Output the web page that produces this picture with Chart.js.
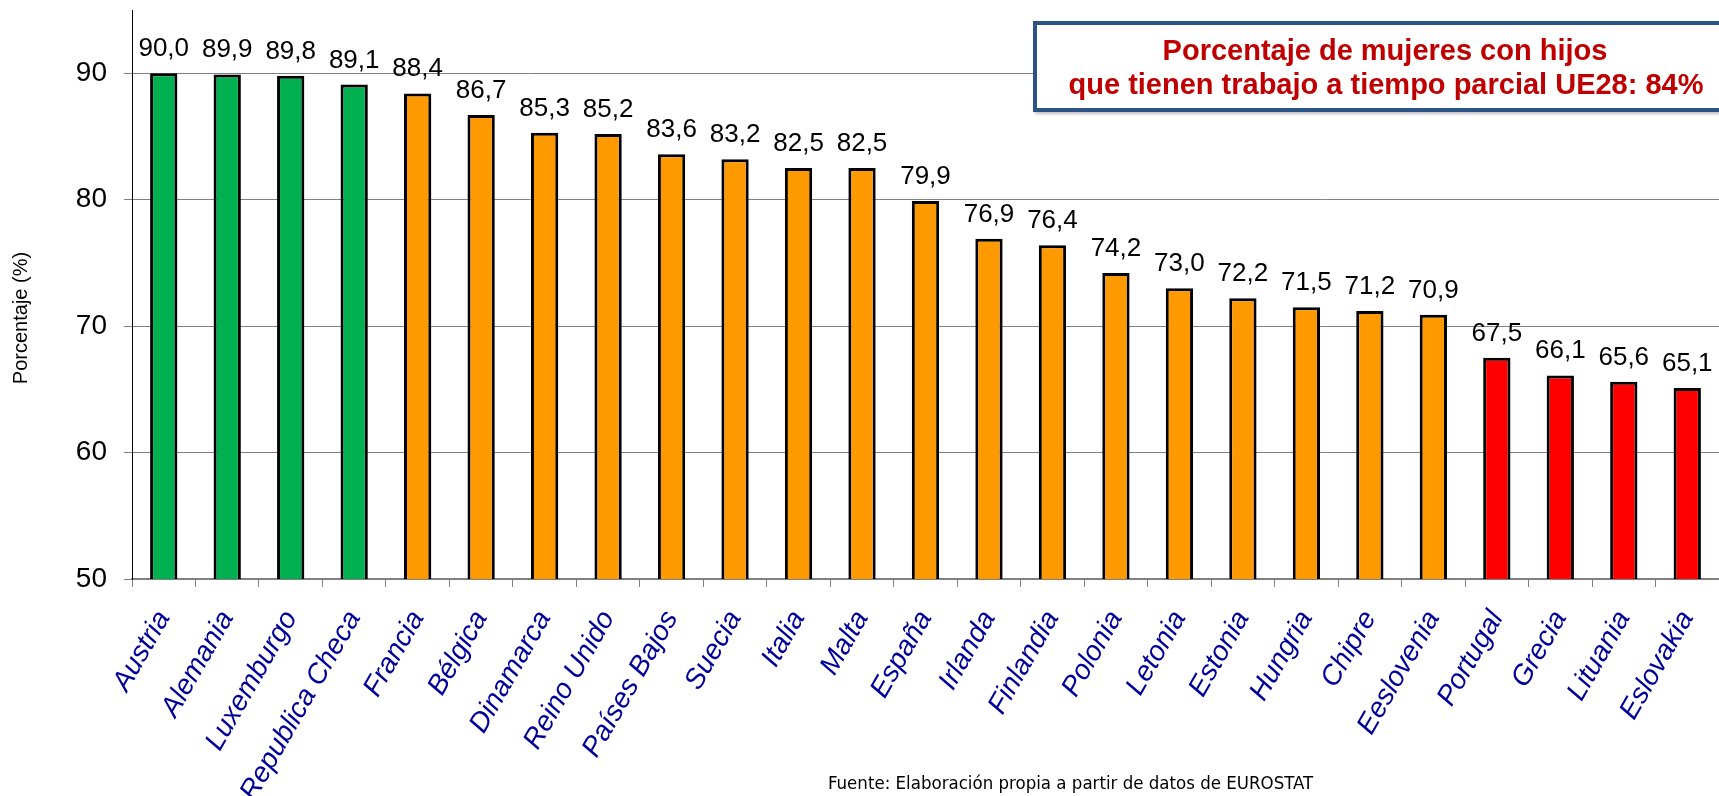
<!DOCTYPE html>
<html lang="es">
<head>
<meta charset="utf-8">
<title>Mujeres con hijos con trabajo a tiempo parcial</title>
<script src="https://cdn.jsdelivr.net/npm/chart.js@4.4.1/dist/chart.umd.min.js"></script>
<style>
  html, body { margin: 0; padding: 0; background: #fff; }
  #grafico { display: block; }
</style>
</head>
<body>
<canvas id="grafico" width="1719" height="796"></canvas>
<script>
const paises = [
  "Austria", "Alemania", "Luxemburgo", "Republica Checa", "Francia", "Bélgica",
  "Dinamarca", "Reino Unido", "Países Bajos", "Suecia", "Italia", "Malta",
  "España", "Irlanda", "Finlandia", "Polonia", "Letonia", "Estonia",
  "Hungria", "Chipre", "Eeslovenia", "Portugal", "Grecia", "Lituania", "Eslovakia"
];

const porcentajes = [
  90.0, 89.9, 89.8, 89.1, 88.4, 86.7,
  85.3, 85.2, 83.6, 83.2, 82.5, 82.5,
  79.9, 76.9, 76.4, 74.2, 73.0, 72.2,
  71.5, 71.2, 70.9, 67.5, 66.1, 65.6, 65.1
];

// grupo de cada país: alto (verde), medio (naranja), bajo (rojo)
const grupos = [
  "alto", "alto", "alto", "alto", "medio", "medio",
  "medio", "medio", "medio", "medio", "medio", "medio",
  "medio", "medio", "medio", "medio", "medio", "medio",
  "medio", "medio", "medio", "bajo", "bajo", "bajo", "bajo"
];

const ticksY = [50, 60, 70, 80, 90];

const colorGrupo = { alto: "#00B050", medio: "#FF9900", bajo: "#FF0000" };

const tituloLineas = [
  "Porcentaje de mujeres con hijos",
  "que tienen trabajo a tiempo parcial UE28: 84%"
];
const tituloEjeY = "Porcentaje (%)";
const fuente = "Fuente: Elaboración propia a partir de datos de EUROSTAT";

const fmt = v => v.toFixed(1).replace(".", ",");

// etiquetas de valor, recuadro del título, título del eje y nota de fuente
const extras = {
  id: "extras",
  afterDraw(chart) {
    const ctx = chart.ctx;
    const meta = chart.getDatasetMeta(0);
    ctx.save();

    ctx.fillStyle = "#000";
    ctx.font = "26px 'Liberation Sans', Arial, sans-serif";
    ctx.textAlign = "center";
    ctx.textBaseline = "alphabetic";
    meta.data.forEach((bar, i) => {
      ctx.fillText(fmt(porcentajes[i]), bar.x, bar.y - 17);
    });

    // recuadro
    ctx.shadowColor = "rgba(0,0,0,0.25)";
    ctx.shadowOffsetX = 2;
    ctx.shadowOffsetY = 2;
    ctx.shadowBlur = 3;
    ctx.fillStyle = "#fff";
    ctx.fillRect(1033, 21, 720, 91);
    ctx.shadowColor = "transparent";
    ctx.strokeStyle = "#2B5386";
    ctx.lineWidth = 4;
    ctx.strokeRect(1035, 23, 720, 87);

    ctx.fillStyle = "#C00000";
    ctx.font = "bold 29px 'Liberation Sans Narrow', 'Arial Narrow', sans-serif";
    ctx.textAlign = "center";
    ctx.fillText(tituloLineas[0], 1385, 60);
    ctx.fillText(tituloLineas[1], 1386, 94);

    // título del eje Y
    ctx.fillStyle = "#000";
    ctx.font = "20px 'Liberation Sans', Arial, sans-serif";
    ctx.translate(21, 318);
    ctx.rotate(-Math.PI / 2);
    ctx.textBaseline = "middle";
    ctx.fillText(tituloEjeY, 0, 0);
    ctx.setTransform(1, 0, 0, 1, 0, 0);

    ctx.font = "18.5px 'DejaVu Sans Condensed', 'DejaVu Sans', sans-serif";
    ctx.textAlign = "left";
    ctx.textBaseline = "alphabetic";
    ctx.fillText(fuente, 828, 789);

    ctx.restore();
  }
};

new Chart(document.getElementById("grafico"), {
  type: "bar",
  data: {
    labels: paises,
    datasets: [{
      data: porcentajes,
      backgroundColor: grupos.map(g => colorGrupo[g]),
      borderColor: "#000",
      borderWidth: 3,
      borderSkipped: "start",
      barPercentage: 0.43,
      categoryPercentage: 1
    }]
  },
  options: {
    responsive: false,
    animation: false,
    layout: { padding: { top: 10, right: 0, bottom: 0, left: 0 } },
    plugins: {
      legend: { display: false },
      tooltip: { enabled: false }
    },
    scales: {
      x: {
        grid: {
          offset: true,
          drawOnChartArea: false,
          drawTicks: true,
          tickLength: 8,
          color: "#808080"
        },
        border: { color: "#808080", width: 2 },
        ticks: {
          autoSkip: false,
          minRotation: 60,
          maxRotation: 60,
          padding: 18,
          color: "#000099",
          font: { family: "'Liberation Sans', Arial, sans-serif", size: 28, style: "italic" }
        },
        afterFit(scale) {
          scale.height = 217;
          scale.paddingLeft = 0;
          scale.paddingRight = 0;
        }
      },
      y: {
        min: 50,
        max: 95,
        grid: { color: "#808080", tickLength: 8 },
        border: { color: "#000", width: 1 },
        afterBuildTicks(scale) {
          scale.ticks = ticksY.map(v => ({ value: v }));
        },
        ticks: {
          padding: 17,
          color: "#000",
          font: { family: "'Liberation Sans', Arial, sans-serif", size: 28 }
        },
        afterFit(scale) {
          scale.width = 132;
          scale.paddingTop = 0;
          scale.paddingBottom = 0;
        }
      }
    }
  },
  plugins: [extras]
});
</script>
</body>
</html>
